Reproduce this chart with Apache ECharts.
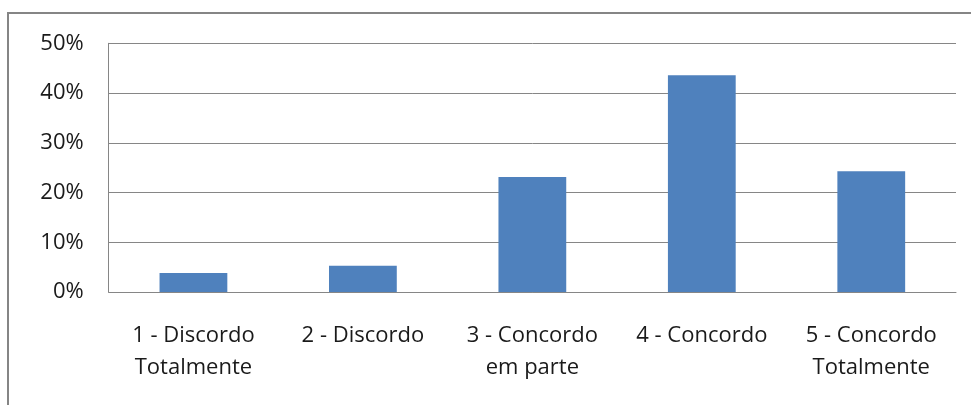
<!DOCTYPE html>
<html>
<head>
<meta charset="utf-8">
<script src="https://cdn.jsdelivr.net/npm/echarts@6/dist/echarts.min.js"></script>
<style>
html,body{margin:0;padding:0;width:971px;height:405px;overflow:hidden;background:#fff;}
#frame{position:absolute;left:7px;top:12px;width:1000px;height:500px;border:2px solid #858585;box-sizing:border-box;}
#chart{position:absolute;left:0;top:0;width:971px;height:405px;}
</style>
</head>
<body>
<div id="frame"></div>
<div id="chart"></div>
<script>
const categories = ["1 - Discordo\nTotalmente", "2 - Discordo", "3 - Concordo\nem parte", "4 - Concordo", "5 - Concordo\nTotalmente"];
const values = [3.8, 5.3, 23.1, 43.6, 24.3];
const yTicks = [0, 10, 20, 30, 40, 50];

const chart = echarts.init(document.getElementById('chart'), null, {renderer: 'canvas'});
chart.setOption({
  animation: false,
  grid: {left: 108.7, right: 15, top: 43.3, bottom: 113, containLabel: false},
  xAxis: {
    type: 'category',
    data: categories,
    axisLine: {show: true, lineStyle: {color: '#868686', width: 1}},
    axisTick: {show: false},
    axisLabel: {
      color: '#1a1a1a',
      fontFamily: 'Open Sans',
      fontSize: 22,
      lineHeight: 32,
      margin: 28,
      interval: 0
    }
  },
  yAxis: {
    type: 'value',
    min: yTicks[0],
    max: yTicks[yTicks.length - 1],
    interval: 10,
    axisLine: {show: true, lineStyle: {color: '#868686', width: 1}},
    axisTick: {show: false},
    splitLine: {show: true, lineStyle: {color: '#868686', width: 1}},
    axisLabel: {
      color: '#1a1a1a',
      fontFamily: 'Open Sans',
      fontSize: 22,
      margin: 25,
      formatter: v => v + '%'
    }
  },
  series: [{
    type: 'bar',
    data: values,
    barWidth: '40%',
    itemStyle: {color: '#4F81BD'}
  }]
});
</script>
</body>
</html>
